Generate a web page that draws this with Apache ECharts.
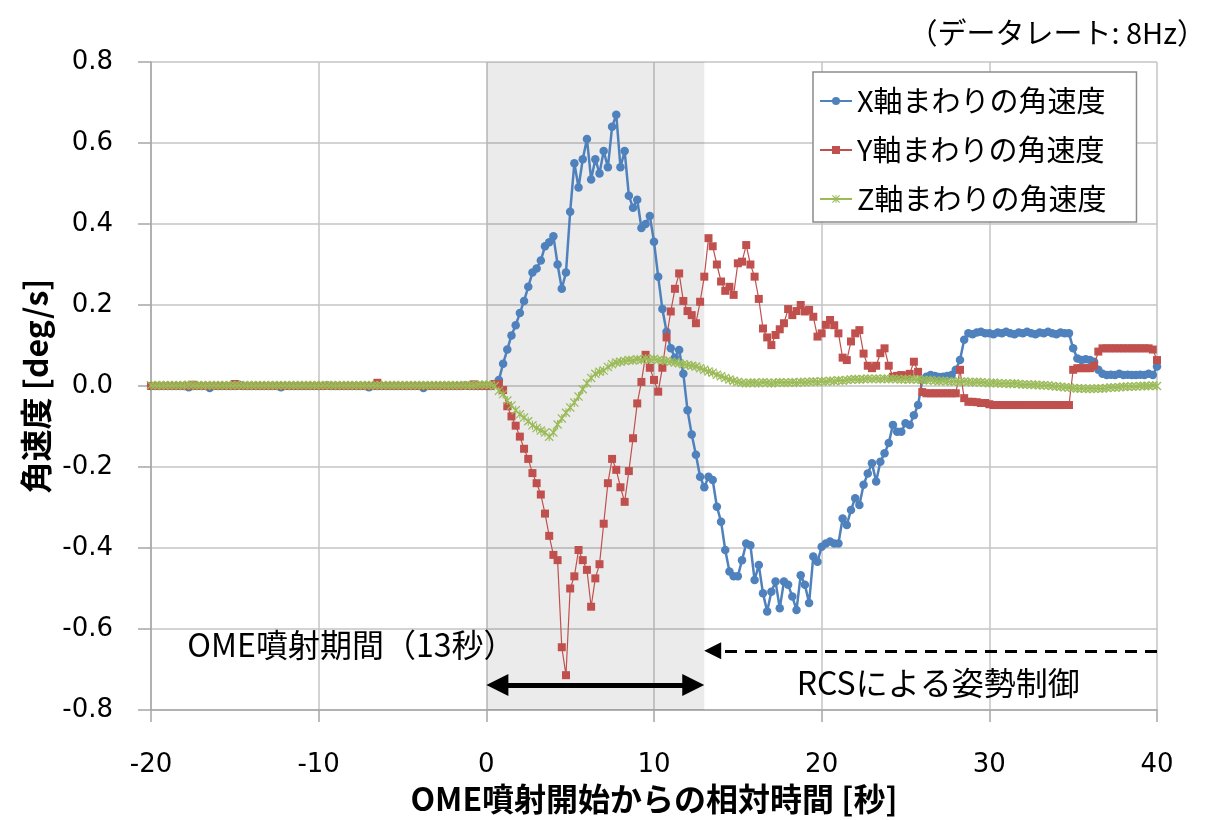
<!DOCTYPE html>
<html><head><meta charset="utf-8">
<script src="https://cdn.jsdelivr.net/npm/echarts@6/dist/echarts.min.js"></script>
<style>html,body{margin:0;padding:0;background:#fff}#c{width:1211px;height:820px}</style>
</head><body><div id="c"></div><script>
// time of each sample [s] relative to OME ignition
const timeSec = [
-20,-19.75,-19.5,-19.25,-19,-18.75,-18.5,-18.25,-18,-17.75,-17.5,-17.25,-17,-16.75,-16.5,-16.25,
-16,-15.75,-15.5,-15.25,-15,-14.75,-14.5,-14.25,-14,-13.75,-13.5,-13.25,-13,-12.75,-12.5,-12.25,
-12,-11.75,-11.5,-11.25,-11,-10.75,-10.5,-10.25,-10,-9.75,-9.5,-9.25,-9,-8.75,-8.5,-8.25,
-8,-7.75,-7.5,-7.25,-7,-6.75,-6.5,-6.25,-6,-5.75,-5.5,-5.25,-5,-4.75,-4.5,-4.25,
-4,-3.75,-3.5,-3.25,-3,-2.75,-2.5,-2.25,-2,-1.75,-1.5,-1.25,-1,-0.75,-0.5,-0.25,
0,0.25,0.5,0.75,1,1.25,1.5,1.75,2,2.25,2.5,2.75,3,3.25,3.5,3.75,
4,4.25,4.5,4.75,5,5.25,5.5,5.75,6,6.25,6.5,6.75,7,7.25,7.5,7.75,
8,8.25,8.5,8.75,9,9.25,9.5,9.75,10,10.25,10.5,10.75,11,11.25,11.5,11.75,
12,12.25,12.5,12.75,13,13.25,13.5,13.75,14,14.25,14.5,14.75,15,15.25,15.5,15.75,
16,16.25,16.5,16.75,17,17.25,17.5,17.75,18,18.25,18.5,18.75,19,19.25,19.5,19.75,
20,20.25,20.5,20.75,21,21.25,21.5,21.75,22,22.25,22.5,22.75,23,23.25,23.5,23.75,
24,24.25,24.5,24.75,25,25.25,25.5,25.75,26,26.25,26.5,26.75,27,27.25,27.5,27.75,
28,28.25,28.5,28.75,29,29.25,29.5,29.75,30,30.25,30.5,30.75,31,31.25,31.5,31.75,
32,32.25,32.5,32.75,33,33.25,33.5,33.75,34,34.25,34.5,34.75,35,35.25,35.5,35.75,
36,36.25,36.5,36.75,37,37.25,37.5,37.75,38,38.25,38.5,38.75,39,39.25,39.5,39.75,
40];

const xRate = [
0,0,0,0, 0,0,0,0, 0,-0.003,0,0, 0,0,-0.005,0,
0,0,0,0, 0,0.003,0,0, 0,0,0,0, 0,0,0,-0.003,
0,0,0,0, 0,0,0,0, 0,0,0.002,0, 0,0,0,0,
0,0,0,0, -0.003,0,0,0, 0,0,0,0, 0,0,0,0,
0,-0.005,0,0, 0,0,0,0, 0,0,0,0.002, 0,0,0,0,
0,0,0.005,0.015, 0.055,0.09,0.125,0.15, 0.18,0.21,0.245,0.28, 0.29,0.31,0.345,0.355,
0.37,0.30,0.24,0.28, 0.43,0.55,0.49,0.56, 0.61,0.51,0.56,0.525, 0.58,0.54,0.64,0.67,
0.54,0.58,0.47,0.44, 0.46,0.39,0.40,0.42, 0.356,0.27,0.19,0.134, 0.093,0.07,0.089,0.03,
-0.06,-0.12,-0.17,-0.224, -0.25,-0.224,-0.232,-0.298, -0.335,-0.405,-0.458,-0.47, -0.47,-0.43,-0.389,-0.393,
-0.479,-0.442,-0.512,-0.557, -0.508,-0.483,-0.549,-0.483, -0.491,-0.52,-0.553,-0.467, -0.491,-0.536,-0.421,-0.434,
-0.397,-0.389,-0.384,-0.389, -0.389,-0.327,-0.343,-0.306, -0.277,-0.294,-0.244,-0.216, -0.191,-0.236,-0.187,-0.166,
-0.141,-0.096,-0.113,-0.113, -0.092,-0.096,-0.072,-0.047, 0.015,0.023,0.027,0.025, 0.022,0.023,0.025,0.027,
0.04,0.064,0.114,0.13, 0.128,0.132,0.134,0.13, 0.13,0.128,0.132,0.13, 0.134,0.13,0.128,0.132,
0.13,0.134,0.13,0.128, 0.132,0.13,0.134,0.13, 0.128,0.132,0.13,0.13, 0.093,0.068,0.064,0.066,
0.064,0.06,0.04,0.03, 0.027,0.028,0.027,0.03, 0.027,0.028,0.027,0.027, 0.028,0.027,0.03,0.027,
0.048];

const yRate = [
0,0,0,0, 0,0,0,0, 0,0,0.003,0, 0,0,0,0,
0,0,0,0, 0.005,0,0,0, 0,0,0,0, 0,0,0,0,
0,0,0,0, 0,0,0,0, 0,0,0,0, 0,0,0,0,
0,0,0,0, 0,0,0.008,0, 0,0,0,0, 0,0,0,0,
0,0,0,0, 0,0,0,0, 0,0,0,0, 0,0.004,0,0,
0,0,0.005,0.005, -0.01,-0.05,-0.075,-0.098, -0.125,-0.155,-0.18,-0.215, -0.24,-0.268,-0.315,-0.37,
-0.417,-0.43,-0.645,-0.714, -0.5,-0.47,-0.405,-0.43, -0.454,-0.545,-0.475,-0.44, -0.34,-0.24,-0.18,-0.207,
-0.25,-0.286,-0.21,-0.129, -0.043,0.01,0.077,0.045, 0.015,-0.014,0.045,0.12, 0.184,0.24,0.278,0.21,
0.185,0.175,0.155,0.208, 0.27,0.365,0.345,0.3, 0.258,0.235,0.245,0.225, 0.303,0.307,0.348,0.3,
0.27,0.215,0.142,0.12, 0.101,0.126,0.14,0.155, 0.19,0.175,0.185,0.2, 0.184,0.188,0.171,0.122,
0.13,0.151,0.163,0.15, 0.13,0.07,0.064,0.11, 0.13,0.138,0.08,0.05, 0.044,0.05,0.081,0.093,
0.05,0.023,0.025,0.027, 0.025,0.03,0.06,0.035, -0.015,-0.018,-0.018,-0.018, -0.018,-0.018,-0.018,-0.018,
-0.018,0.04,-0.03,-0.039, -0.039,-0.04,-0.042,-0.042, -0.045,-0.047,-0.047,-0.047, -0.047,-0.047,-0.047,-0.047,
-0.047,-0.047,-0.047,-0.047, -0.047,-0.047,-0.047,-0.047, -0.047,-0.047,-0.047,-0.047, 0.04,0.044,0.044,0.044,
0.044,0.05,0.085,0.093, 0.093,0.093,0.093,0.093, 0.093,0.093,0.093,0.093, 0.093,0.093,0.093,0.09,
0.064];

const zRate = [
0.002,0.002,0.002,0.002, 0.002,0.002,0.002,0.002, 0.002,0.003,0.002,0.002, 0.002,0.002,0.002,0.002,
0.002,0.002,0.002,0.002, 0.002,0.002,0.002,0.002, 0.002,0.002,0.002,0.002, 0.002,0.002,0.002,0.002,
0.002,0.002,0.002,0.002, 0.002,0.002,0.002,0.002, 0.002,0.002,0.002,0.002, 0.002,0.002,0.002,0.002,
0.002,0.002,0.002,0.002, 0.002,0.002,0.002,0.002, 0.002,0.002,0.002,0.002, 0.002,0.002,0.002,0.002,
0.002,0.002,0.002,0.002, 0.002,0.002,0.002,0.002, 0.002,0.002,0.002,0.002, 0.002,0.002,0.003,0.003,
0.003,0.003,0,-0.012, -0.02,-0.036,-0.048,-0.06, -0.07,-0.078,-0.087,-0.097, -0.104,-0.11,-0.115,-0.125,
-0.115,-0.095,-0.08,-0.066, -0.053,-0.041,-0.026,-0.008, 0.007,0.02,0.03,0.035, 0.038,0.047,0.054,0.058,
0.06,0.062,0.064,0.063, 0.066,0.064,0.068,0.065, 0.067,0.064,0.063,0.062, 0.06,0.058,0.056,0.054,
0.052,0.05,0.048,0.044, 0.04,0.036,0.033,0.028, 0.024,0.02,0.016,0.013, 0.01,0.008,0.007,0.008,
0.008,0.007,0.009,0.008, 0.007,0.008,0.009,0.008, 0.008,0.009,0.008,0.01, 0.009,0.01,0.011,0.01,
0.012,0.011,0.013,0.012, 0.014,0.013,0.015,0.016, 0.017,0.016,0.017,0.018, 0.017,0.018,0.017,0.018,
0.017,0.018,0.017,0.016, 0.017,0.016,0.017,0.016, 0.015,0.014,0.015,0.013, 0.012,0.013,0.012,0.011,
0.011,0.01,0.011,0.01, 0.009,0.01,0.009,0.008, 0.007,0.008,0.007,0.006, 0.006,0.005,0.006,0.005,
0.004,0.004,0.003,0.003, 0.002,0.002,0.001,0, -0.001,-0.002,-0.003,-0.004, -0.005,-0.006,-0.006,-0.007,
-0.007,-0.007,-0.006,-0.006, -0.005,-0.004,-0.004,-0.003, -0.002,-0.002,-0.001,-0.001, 0,0,0,0.001,
0];

const seriesNames = ['X軸まわりの角速度', 'Y軸まわりの角速度', 'Z軸まわりの角速度'];
const seriesColors = ['#4F81BD', '#C0504D', '#9BBB59'];
const omePeriod = [0, 13];
const omeLabel = 'OME噴射期間（13秒）';
const rcsLabel = 'RCSによる姿勢制御';
const noteText = '（データレート: 8Hz）';
const xAxisTitle = 'OME噴射開始からの相対時間 [秒]';
const yAxisTitle = '角速度 [deg/s]';

const pairs = vals => timeSec.map((t, i) => [t, vals[i]]);
const FONT = "'Noto Sans CJK JP', sans-serif";
const NUMFONT = "'DejaVu Sans', sans-serif";
const starPath = 'path://M0,1L1,0L10,9L9,10Z M9,0L10,1L1,10L0,9Z M4.4,0L5.6,0L5.6,10L4.4,10Z';

const chart = echarts.init(document.getElementById('c'), null, {renderer: 'canvas'});
chart.setOption({
  animation: false,
  backgroundColor: '#fff',
  title: {text: noteText, right: 0, top: 13,
    textStyle: {fontFamily: FONT, fontSize: 29, fontWeight: 'normal', color: '#000'}},
  grid: {left: 151, right: 54, top: 62, bottom: 110},
  legend: {
    data: seriesNames, orient: 'vertical', left: 813, top: 72,
    itemWidth: 32, itemHeight: 10, itemGap: 19,
    padding: [14, 30, 8, 6],
    borderColor: '#8c8c8c', borderWidth: 1.5, backgroundColor: '#fff',
    textStyle: {fontFamily: FONT, fontSize: 29, color: '#000', lineHeight: 30}
  },
  xAxis: {
    type: 'value', min: -20, max: 40, interval: 10,
    axisLine: {onZero: false, lineStyle: {color: '#a6a6a6', width: 1.5}},
    axisTick: {show: true, length: 12, lineStyle: {color: '#a6a6a6', width: 1.5}},
    splitLine: {show: true, lineStyle: {color: '#c4c4c4', width: 1.5}},
    axisLabel: {margin: 42, fontFamily: NUMFONT, fontSize: 26, color: '#000'},
    name: xAxisTitle, nameLocation: 'middle', nameGap: 72,
    nameTextStyle: {fontFamily: FONT, fontSize: 32, fontWeight: 'bold', color: '#000'}
  },
  yAxis: {
    type: 'value', min: -0.8, max: 0.8, interval: 0.2,
    axisLine: {show: true, onZero: false, lineStyle: {color: '#a6a6a6', width: 1.5}},
    axisTick: {show: true, length: 13, lineStyle: {color: '#a6a6a6', width: 1.5}},
    splitLine: {show: true, lineStyle: {color: '#c4c4c4', width: 1.5}},
    axisLabel: {margin: 38, fontFamily: NUMFONT, fontSize: 26, color: '#000',
      formatter: v => v.toFixed(1)},
    name: yAxisTitle, nameLocation: 'middle', nameGap: 96, nameRotate: 90,
    nameTextStyle: {fontFamily: FONT, fontSize: 32, fontWeight: 'bold', color: '#000'}
  },
  series: [
    {name: 'shade', type: 'line', data: [], z: 1, silent: true,
      markArea: {silent: true, itemStyle: {color: 'rgba(0,0,0,0.08)'},
        data: [[{xAxis: omePeriod[0]}, {xAxis: omePeriod[1]}]]}},
    {name: seriesNames[0], type: 'line', data: pairs(xRate), color: seriesColors[0],
      symbol: 'circle', symbolSize: 8.5, showAllSymbol: true, lineStyle: {width: 2.5},
      itemStyle: {color: seriesColors[0]}, z: 3},
    {name: seriesNames[1], type: 'line', data: pairs(yRate), color: seriesColors[1],
      symbol: 'rect', symbolSize: 8, showAllSymbol: true, lineStyle: {width: 1.2},
      itemStyle: {color: seriesColors[1]}, z: 4},
    {name: seriesNames[2], type: 'line', data: pairs(zRate), color: seriesColors[2],
      symbol: starPath, symbolSize: 9, showAllSymbol: true, lineStyle: {width: 1.5},
      itemStyle: {color: seriesColors[2]}, z: 5},
    {name: 'annot', type: 'line', data: [], z: 6, silent: true,
      markLine: {silent: true, animation: false, label: {show: false},
        data: [
          [{coord: [omePeriod[0] + 0.66, -0.738], symbol: 'triangle', symbolSize: [22, 22]},
           {coord: [omePeriod[1] - 0.66, -0.738], symbol: 'triangle', symbolSize: [22, 22],
            lineStyle: {color: '#000', width: 5, type: 'solid'}}],
          [{coord: [40, -0.654], symbol: 'none'},
           {coord: [omePeriod[1] + 0.5, -0.654], symbol: 'triangle', symbolSize: [17, 17],
            lineStyle: {color: '#000', width: 3, type: [12, 8]}}]
        ]},
      markPoint: {silent: true, symbol: 'rect', symbolSize: 1, itemStyle: {color: 'rgba(0,0,0,0)'},
        label: {show: true, position: 'inside', fontFamily: FONT, fontSize: 32, color: '#000',
          formatter: p => p.name},
        data: [
          {name: omeLabel, coord: [-8.05, -0.64]},
          {name: rcsLabel, coord: [26.95, -0.733]}
        ]}}
  ]
});
</script></body></html>
